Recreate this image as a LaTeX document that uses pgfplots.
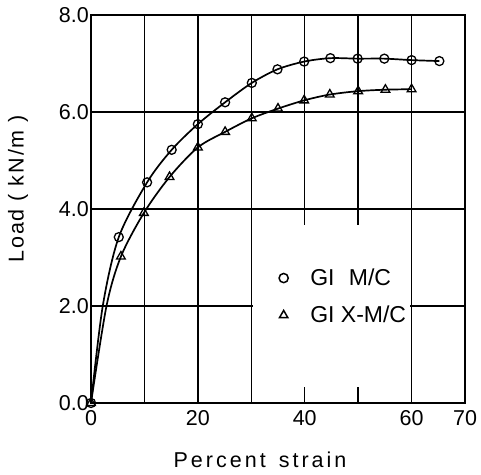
\documentclass[border=0pt]{standalone}
\usepackage{fontspec}
\setmainfont{Liberation Sans}
\usepackage{pgfplots}
\pgfplotsset{compat=1.18}
\begin{document}
\begin{tikzpicture}
\begin{axis}[
 scale only axis, width=374pt, height=388pt,
 xmin=0,xmax=70,ymin=0,ymax=8,
 xtick={0,10,...,70}, xticklabels={0,,20,,40,,60,70},
 ytick={0,2,4,6,8}, yticklabels={0.0,2.0,4.0,6.0,8.0},
 major tick length=0pt,
 grid=major, grid style={black, line width=1.4pt},
 axis line style={line width=1.5pt},
 ticklabel style={font=\fontsize{21.5}{24}\selectfont},
 yticklabel style={inner sep=2pt},
 xticklabel style={yshift=-4pt},
 xlabel={Percent\hspace{4pt} strain}, ylabel={Load ( kN/m )},
 xlabel style={at={(rel axis cs:0.452,-0.146)}, anchor=center,
   font=\fontsize{21.5}{24}\selectfont\addfontfeatures{LetterSpace=14}},
 ylabel style={at={(rel axis cs:-0.195,0.552)}, anchor=center,
   font=\fontsize{21.5}{24}\selectfont\addfontfeatures{LetterSpace=9}},
 legend style={at={(axis cs:34.6,2.85)}, anchor=north west, draw=none, fill=none,
   font=\fontsize{23}{26}\selectfont, row sep=15pt, column sep=20pt},
 legend image code/.code={\draw[#1] plot coordinates {(0pt,0pt)};},
 legend cell align=left,
]
% curves (lines)
\addplot[black, line width=1.7pt, smooth, tension=0.5, forget plot] coordinates {
(0,0)(2.2,2.0)(5.2,3.42)(10.5,4.55)(15.1,5.22)(20,5.75)(25.1,6.2)(30.1,6.6)(34.9,6.88)(39.9,7.04)(44.8,7.11)(49.9,7.10)(54.9,7.10)(60,7.07)(65.2,7.05)};
\addplot[black, line width=1.7pt, smooth, tension=0.5, forget plot] coordinates {
(0,0)(2.9,2.0)(5.6,3.02)(9.9,3.92)(14.7,4.66)(20,5.27)(25.1,5.59)(30.1,5.87)(35,6.07)(39.9,6.24)(44.7,6.36)(50,6.43)(55.1,6.46)(60,6.47)};
% data points
\addplot[black, only marks, mark=o, mark size=4.5pt, mark options={line width=1.3pt, fill=white}, forget plot] coordinates {
(0,0)(5.2,3.42)(10.5,4.55)(15.1,5.22)(20,5.75)(25.1,6.2)(30.1,6.6)(34.9,6.88)(39.9,7.04)(44.8,7.11)(49.9,7.10)(54.9,7.10)(60,7.07)(65.2,7.05)};
\addplot[black, only marks, mark=triangle, mark size=5pt, mark options={line width=1.3pt, fill=white}, forget plot] coordinates {
(0,0)(5.6,3.02)(9.9,3.92)(14.7,4.66)(20,5.27)(25.1,5.59)(30.1,5.87)(35,6.07)(39.9,6.24)(44.7,6.36)(50,6.43)(55.1,6.46)(60,6.47)};
\fill[white] (axis cs:30.25,0.33) rectangle (axis cs:59.75,3.67);
\addlegendimage{only marks, black, mark=o, mark size=4.6pt, mark options={line width=1.5pt}}
\addlegendentry{GI\hspace{8pt} M/C}
\addlegendimage{only marks, black, mark=triangle, mark size=4.8pt, mark options={line width=1.5pt}}
\addlegendentry{GI X-M/C}
\end{axis}
\pgfresetboundingbox
\path ([xshift=-91pt,yshift=-71pt]current axis.south west) rectangle ([xshift=16pt,yshift=15pt]current axis.north east);
\end{tikzpicture}
\end{document}
